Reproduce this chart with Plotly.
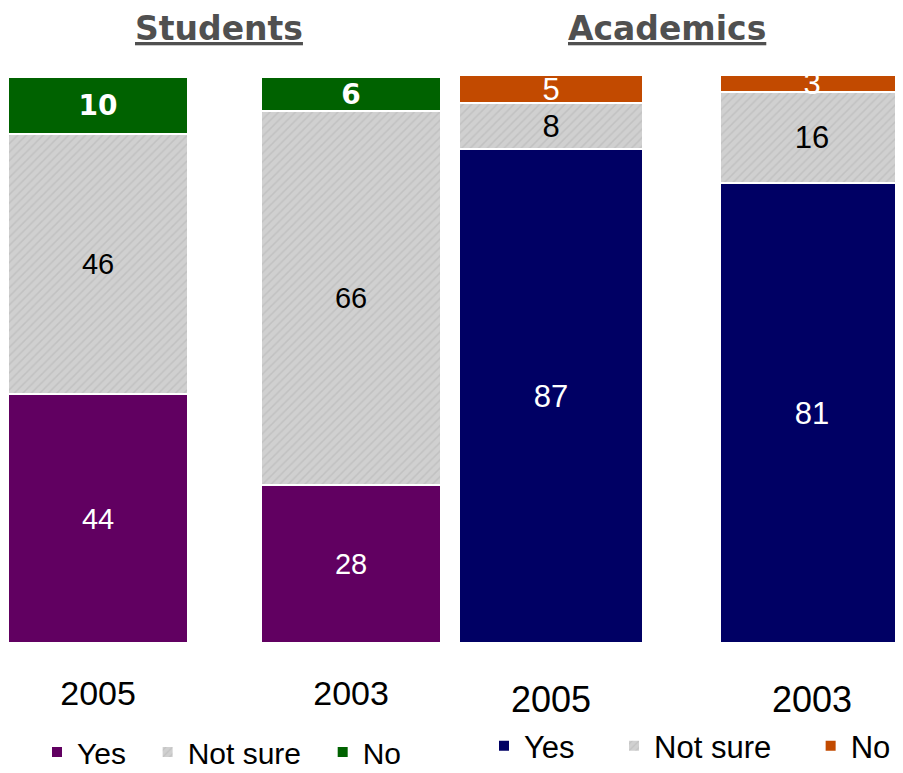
import plotly.graph_objects as go

# survey shares (%)
years = ["2005", "2003"]
students_yes = [44, 28]
students_not_sure = [46, 66]
students_no = [10, 6]
academics_yes = [87, 81]
academics_not_sure = [8, 16]
academics_no = [5, 3]

# the page has an 8px body margin, so the figure is drawn 8px in and the
# layout below is given in reference-picture pixels, shifted by that margin
OFF = 8
W, H = 903 - OFF, 773 - OFF
NBSP = "\u00a0"


def fx(px):
    return (px - OFF) / W


def fy(py):
    return 1 - (py - OFF) / H


LABEL_FONT = "Liberation Sans, Arial, sans-serif"
TITLE_FONT = "DejaVu Sans, Verdana, sans-serif"

grey_pattern = dict(shape="/", fgcolor="#b2b2b2", bgcolor="#d0d0d0", size=6, solidity=0.25)

fig = go.Figure()

# students panel
fig.add_trace(go.Bar(
    x=years, y=students_yes, name="Yes" + NBSP * 2, xaxis="x", yaxis="y", legend="legend",
    marker=dict(color="#610061", line=dict(color="white", width=2)),
    text=students_yes, textfont=dict(color="white", size=29, family=LABEL_FONT),
))
fig.add_trace(go.Bar(
    x=years, y=students_not_sure, name="Not sure" + NBSP * 2, xaxis="x", yaxis="y", legend="legend",
    marker=dict(color="#d0d0d0", pattern=grey_pattern, line=dict(color="white", width=2)),
    text=students_not_sure, textfont=dict(color="black", size=29, family=LABEL_FONT),
))
fig.add_trace(go.Bar(
    x=years, y=students_no, name="No", xaxis="x", yaxis="y", legend="legend",
    marker=dict(color="#006200", line=dict(color="white", width=2)),
    text=["<b>%d</b>" % v for v in students_no],
    textfont=dict(color="white", size=28, family=TITLE_FONT),
))

# academics panel
fig.add_trace(go.Bar(
    x=years, y=academics_yes, name="Yes" + NBSP * 4, xaxis="x2", yaxis="y2", legend="legend2",
    marker=dict(color="#000064", line=dict(color="white", width=2)),
    text=academics_yes, textfont=dict(color="white", size=31, family=LABEL_FONT),
))
fig.add_trace(go.Bar(
    x=years, y=academics_not_sure, name="Not sure" + NBSP * 4, xaxis="x2", yaxis="y2", legend="legend2",
    marker=dict(color="#d0d0d0", pattern=grey_pattern, line=dict(color="white", width=2)),
    text=academics_not_sure, textfont=dict(color="black", size=31, family=LABEL_FONT),
))
fig.add_trace(go.Bar(
    x=years, y=academics_no, name="No", xaxis="x2", yaxis="y2", legend="legend2",
    marker=dict(color="#c24a00", line=dict(color="white", width=2)),
    text=academics_no, textfont=dict(color="white", size=31, family=LABEL_FONT),
))

fig.update_traces(textposition="inside", insidetextanchor="middle", textangle=0,
                  constraintext="none", hoverinfo="skip")
for tr in fig.data[:3]:
    tr.width = 0.711
for tr in fig.data[3:]:
    tr.width = 0.705

axis_common = dict(type="category", showgrid=False, zeroline=False, showline=False,
                   ticks="", fixedrange=True, automargin=False)

fig.update_layout(
    width=W, height=H,
    margin=dict(l=0, r=0, t=0, b=0, autoexpand=False),
    paper_bgcolor="white", plot_bgcolor="white",
    barmode="stack", bargap=0,
    font=dict(family=LABEL_FONT, color="black"),
    xaxis=dict(axis_common, domain=[fx(8), fx(450)], range=[-0.356, 1.391],
               anchor="y", ticklabelstandoff=27,
               tickfont=dict(size=34, family=LABEL_FONT, color="black")),
    yaxis=dict(domain=[fy(643), fy(77)], range=[0, 100], visible=False, fixedrange=True,
               anchor="x", automargin=False),
    xaxis2=dict(axis_common, domain=[fx(450), 1], range=[-0.387, 1.349],
                anchor="y2", ticklabelstandoff=32,
                tickfont=dict(size=36, family=LABEL_FONT, color="black")),
    yaxis2=dict(domain=[fy(643), fy(75)], range=[0, 100], visible=False, fixedrange=True,
                anchor="x2", automargin=False),
    legend=dict(orientation="h", traceorder="normal", x=fx(37), y=fy(752),
                xanchor="left", yanchor="middle",
                font=dict(size=30, family=LABEL_FONT, color="black"),
                bgcolor="rgba(0,0,0,0)", itemclick=False, itemdoubleclick=False),
    legend2=dict(orientation="h", traceorder="normal", x=fx(484), y=fy(773),
                 xanchor="left", yanchor="bottom",
                 font=dict(size=31, family=LABEL_FONT, color="black"),
                 bgcolor="rgba(0,0,0,0)", itemclick=False, itemdoubleclick=False),
    annotations=[
        dict(text="<b><u>Students</u></b>", x=fx(219), y=fy(28), xref="paper", yref="paper",
             xanchor="center", yanchor="middle", showarrow=False,
             font=dict(size=33, family=TITLE_FONT, color="#505050")),
        dict(text="<b><u>Academics</u></b>", x=fx(667), y=fy(28), xref="paper", yref="paper",
             xanchor="center", yanchor="middle", showarrow=False,
             font=dict(size=33, family=TITLE_FONT, color="#505050")),
    ],
)

fig.write_html("out.html")
